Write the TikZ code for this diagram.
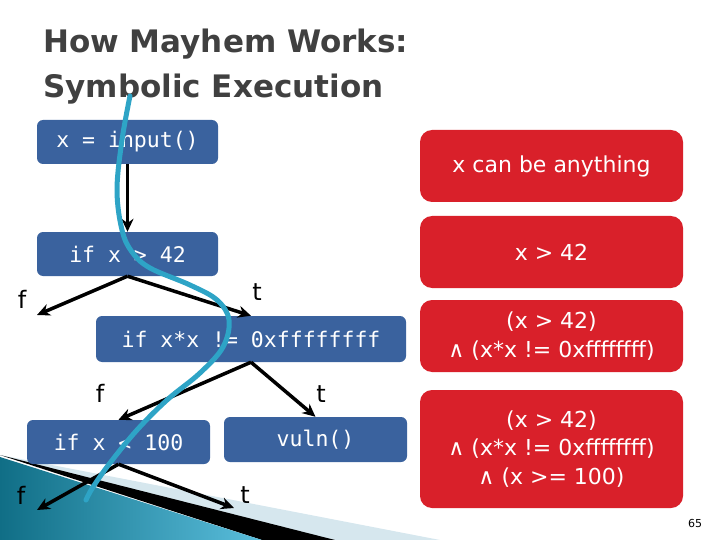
\documentclass[tikz,border=0pt]{standalone}
\usepackage{fontspec}
\setmainfont{DejaVu Sans}
\newfontfamily\codefont{DejaVu Sans Mono}
\usetikzlibrary{arrows.meta}
\definecolor{boxblue}{RGB}{58,98,158}
\definecolor{boxred}{RGB}{217,32,42}
\definecolor{pathcyan}{RGB}{46,164,198}
\definecolor{titlegray}{RGB}{64,64,64}
\definecolor{tealdark}{RGB}{16,110,134}
\definecolor{teallight}{RGB}{90,190,220}
\definecolor{bandblue}{RGB}{214,231,238}
\begin{document}
\begin{tikzpicture}[x=1pt,y=-1pt,
  codebox/.style={fill=boxblue, rounded corners=6pt, text=white, inner sep=0pt,
    font=\codefont\fontsize{21.5}{24}\selectfont},
  redbox/.style={fill=boxred, rounded corners=12pt, text=white, inner sep=0pt,
    minimum width=263pt, align=center, font=\fontsize{22}{28.5}\selectfont},
  arr/.style={draw=black, line width=3.5pt, -{Stealth[length=13pt,width=12pt]}},
  lbl/.style={font=\fontsize{24}{28}\selectfont, inner sep=0pt}]
\useasboundingbox (0,0) rectangle (720,540);

% slide decoration bottom-left
\fill[bandblue] (0,455) -- (440,540) -- (330,540) -- cycle;
\fill[black] (0,455) -- (335,540) -- (262,540) -- cycle;
\shade[left color=tealdark, right color=teallight] (0,457) -- (262,540) -- (0,540) -- cycle;

% title
\node[anchor=base west, inner sep=0pt, text=titlegray, font=\bfseries\fontsize{31}{36}\selectfont] (title1) at (43,53) {How Mayhem Works:};
\node[anchor=base west, inner sep=0pt, text=titlegray, font=\bfseries\fontsize{31}{36}\selectfont] (title2) at (43,98) {Symbolic Execution};

% code boxes
\node[codebox, minimum width=181pt, minimum height=44pt] (n1) at (127.5,142) {x = input()};
\node[codebox, minimum width=181pt, minimum height=44pt] (n2) at (127.5,254) {if x > 42};
\node[codebox, minimum width=310pt, minimum height=46pt] (n3) at (251,339) {if x*x != 0xffffffff};
\node[codebox, minimum width=183pt, minimum height=44pt] (n4) at (118.5,442) {if x < 100};
\node[codebox, minimum width=183pt, minimum height=45pt] (n5) at (315.5,439.5) {vuln()};

% constraint boxes
\node[redbox, minimum height=72pt] (r1) at (551.5,166) {x can be anything};
\node[redbox, minimum height=72pt] (r2) at (551.5,252) {x > 42};
\node[redbox, minimum height=72pt] (r3) at (551.5,336) {(x > 42)\\∧ (x*x != 0xffffffff)};
\node[redbox, minimum height=118pt] (r4) at (551.5,449) {(x > 42)\\∧ (x*x != 0xffffffff)\\∧ (x >= 100)};

% free arrow ends
\coordinate (e1) at (37,315);
\coordinate (e3) at (37,510);
\coordinate (e4) at (234,508);

% connectors
\draw[arr] (n1.south) -- (n2.north);
\draw[arr] (n2.south) -- (e1);
\draw[arr] (n2.south) -- (n3.north);
\draw[arr] (n3.south) -- (n4.north);
\draw[arr] (n3.south) -- (n5.north);
\draw[arr] (n4.south) -- (e3);
\draw[arr] (n4.south) -- (e4);

% branch labels
\node[lbl] (f1) at (22,299) {f};
\node[lbl] (t1) at (257,292) {t};
\node[lbl] (f2) at (100,393) {f};
\node[lbl] (t2) at (321,394) {t};
\node[lbl] (f3) at (21,495) {f};
\node[lbl] (t3) at (245,495) {t};

% page number
\node[font=\fontsize{11}{13}\selectfont, inner sep=0pt] (pg) at (695,523) {65};

% execution path
\draw[pathcyan, line width=5pt, line cap=round]
  plot[smooth, tension=0.6] coordinates {(130,96) (122,140) (117,190) (122,230) (132,252) (150,268) (190,285) (217,300) (229,320) (223,347) (200,373) (167,400) (137,430) (110,463) (93,487) (86,500)};
\end{tikzpicture}
\end{document}
